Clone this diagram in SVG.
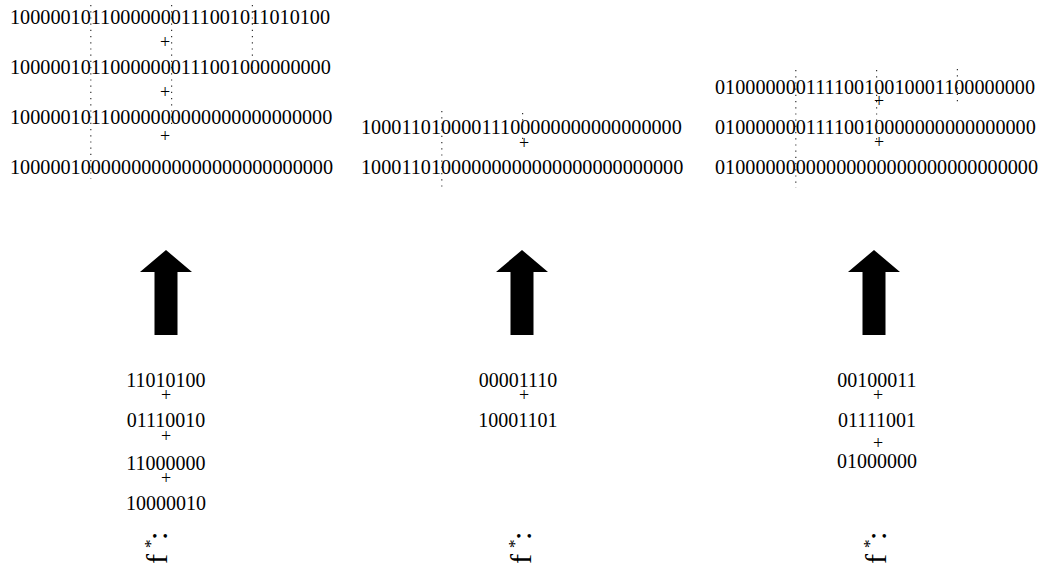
<svg xmlns="http://www.w3.org/2000/svg" width="1049" height="572" viewBox="0 0 1049 572">
<style>
.b{font-family:"Liberation Serif","Times New Roman",serif;font-size:20.2px;fill:#000}
.c{font-family:"Liberation Serif","Times New Roman",serif;font-size:20px;fill:#000;text-anchor:middle}
.p{font-family:"Liberation Serif","Times New Roman",serif;font-size:18px;fill:#000;text-anchor:middle}
.f{font-family:"Liberation Serif","Times New Roman",serif;font-size:30px;fill:#000}
.d{stroke:#333;stroke-width:1.2;stroke-dasharray:1.2 5;fill:none}
.arr{fill:#000}
</style>
<defs>
<path id="arrow" d="M0,0 L26,22 L11.5,22 L11.5,85 L-11.5,85 L-11.5,22 L-26,22 Z"/>
<g id="fstar"><text class="f">f<tspan x="16" dy="-11" font-size="17">*</tspan><tspan x="24" dy="11">:</tspan></text></g>
</defs>
<g id="left-sum">
<text class="b" x="10" y="24">10000010110000000111001011010100</text>
<text class="p" x="165" y="48">+</text>
<text class="b" x="10" y="74">10000010110000000111001000000000</text>
<text class="p" x="165" y="98">+</text>
<text class="b" x="10" y="124">10000010110000000000000000000000</text>
<text class="p" x="165" y="142">+</text>
<text class="b" x="10" y="174">10000010000000000000000000000000</text>
<line class="d" x1="90.8" y1="5" x2="90.8" y2="179"/>
<line class="d" x1="171.6" y1="5" x2="171.6" y2="129"/>
<line class="d" x1="252.4" y1="5" x2="252.4" y2="71"/>
</g>
<g id="middle-sum">
<text class="b" x="361" y="134">10001101000011100000000000000000</text>
<text class="p" x="524" y="149">+</text>
<text class="b" x="361" y="174">10001101000000000000000000000000</text>
<line class="d" x1="441.8" y1="111" x2="441.8" y2="187"/>
<line class="d" x1="522.6" y1="113" x2="522.6" y2="141"/>
</g>
<g id="right-sum">
<text class="b" x="715" y="94">01000000011110010010001100000000</text>
<text class="p" x="879" y="107">+</text>
<text class="b" x="715" y="134">01000000011110010000000000000000</text>
<text class="p" x="879" y="148">+</text>
<text class="b" x="715" y="174">01000000000000000000000000000000</text>
<line class="d" x1="795.8" y1="70" x2="795.8" y2="188"/>
<line class="d" x1="876.6" y1="70" x2="876.6" y2="144"/>
<line class="d" x1="957.4" y1="69" x2="957.4" y2="103"/>
</g>
<g id="connectors">
<use href="#arrow" class="arr" transform="translate(166,250)"/>
<use href="#arrow" class="arr" transform="translate(522,250)"/>
<use href="#arrow" class="arr" transform="translate(874,250)"/>
</g>
<g id="left-terms">
<text class="c" x="166" y="387">11010100</text>
<text class="p" x="166" y="401">+</text>
<text class="c" x="166" y="427">01110010</text>
<text class="p" x="166" y="442">+</text>
<text class="c" x="166" y="470">11000000</text>
<text class="p" x="166" y="484">+</text>
<text class="c" x="166" y="510">10000010</text>
<use href="#fstar" transform="translate(167,564) rotate(-90)"/>
</g>
<g id="middle-terms">
<text class="c" x="518" y="387">00001110</text>
<text class="p" x="524" y="401">+</text>
<text class="c" x="518" y="427">10001101</text>
<use href="#fstar" transform="translate(531,564) rotate(-90)"/>
</g>
<g id="right-terms">
<text class="c" x="877" y="387">00100011</text>
<text class="p" x="878" y="401">+</text>
<text class="c" x="877" y="427">01111001</text>
<text class="p" x="878" y="449">+</text>
<text class="c" x="877" y="468">01000000</text>
<use href="#fstar" transform="translate(886,564) rotate(-90)"/>
</g>
</svg>
